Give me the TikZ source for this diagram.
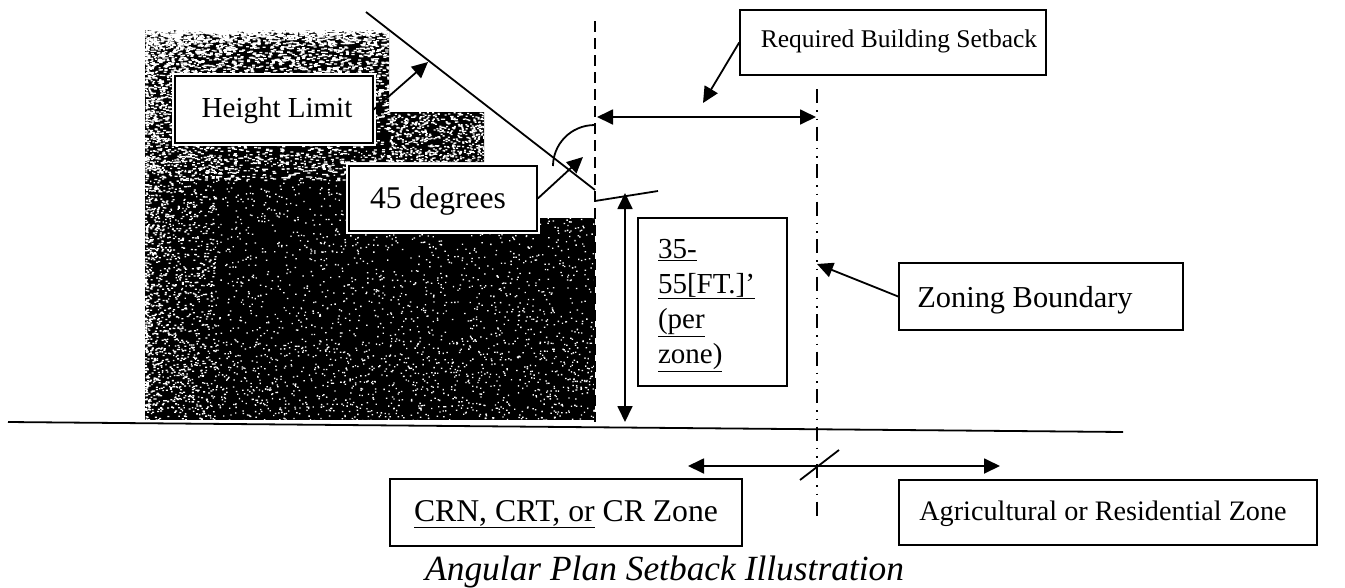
\documentclass[tikz,border=0pt]{standalone}
\usepackage{fontspec}
\setmainfont{Liberation Serif}
\usetikzlibrary{arrows.meta}
\newcommand{\fsz}[1]{\fontsize{#1}{#1}\selectfont}
\newcommand{\drop}[2]{\raisebox{-#1pt}[0pt][0pt]{#2}}
% x0 y0 w h sizeX sizeY count exponentY exponentX
\newcommand{\specks}[9]{%
  \fill[white] \foreach \i in {1,...,#7}{
    ({#1+#3*pow(rnd,#9)},{#2+#4*pow(rnd,#8)}) rectangle ++(#5,#6)};}
\tikzset{
  boxed/.style={draw=black,line width=1.6pt,fill=white,inner sep=0pt},
  halo/.style={preaction={draw=white,line width=6pt}},
  thinline/.style={black,line width=1.8pt},
  tip/.style={thinline,-{Triangle[length=16pt,width=15pt]}},
  twotip/.style={thinline,{Triangle[length=16pt,width=15pt]}-{Triangle[length=16pt,width=15pt]}},
  boundary/.style={black,line width=1.6pt,dash pattern=on 14pt off 7pt on 1.5pt off 7pt on 1.5pt off 6.5pt},
  cut/.style={black,line width=1.5pt,dash pattern=on 11pt off 6pt}
}
\begin{document}
\begin{tikzpicture}[x=1pt,y=-1pt]
\useasboundingbox (0,0) rectangle (1345,587);
\pgfmathsetseed{7}
% building
\begin{scope}
\clip (145,30) -- (389,30) -- (389,112) -- (484,112) -- (484,162) -- (350,162) -- (350,218) -- (595,218) -- (595,420) -- (145,420) -- cycle;
\fill[black] (145,30) rectangle (595,420);
\specks{145}{30}{245}{150}{3}{1.3}{3600}{2}{1}
\specks{145}{30}{70}{390}{2}{1.3}{1700}{1}{2}
\specks{389}{112}{95}{50}{2}{1.3}{600}{1}{1}
\specks{145}{150}{450}{270}{1.4}{1.3}{2500}{1}{1}
\specks{145}{340}{450}{80}{1.4}{1.3}{500}{1}{1}
\end{scope}
% lines
\coordinate (diagTop) at (366,12);
\coordinate (diagEnd) at (595,190);
\coordinate (limitTip) at (428,62);
\coordinate (cutTop) at (595,21);
\coordinate (cutEnd) at (595,422);
\coordinate (arcA) at (595,125);
\coordinate (arcB) at (553,166);
\coordinate (angleTip) at (583,157);
\coordinate (setL) at (597,117);
\coordinate (setR) at (816,117);
\coordinate (setTip) at (703,103);
\coordinate (tickA) at (595,201);
\coordinate (tickB) at (658,191);
\coordinate (heightT) at (625,193);
\coordinate (heightB) at (625,422);
\coordinate (bndTop) at (817,89);
\coordinate (bndEnd) at (817,516);
\coordinate (bndTip) at (817,264);
\coordinate (groundL) at (8,422);
\coordinate (groundR) at (1123,432);
\coordinate (zoneL) at (688,466);
\coordinate (zoneR) at (1000,466);
\coordinate (slashA) at (800,480);
\coordinate (slashB) at (839,450);
\draw[thinline] (diagTop) -- (diagEnd);
\draw[cut] (cutTop) -- (cutEnd);
\draw[thinline] (arcA) .. controls (570,125) and (553,145) .. (arcB);
\draw[twotip] (setL) -- (setR);
\draw[thinline] (tickA) -- (tickB);
\draw[twotip] (heightT) -- (heightB);
\draw[boundary] (bndTop) -- (bndEnd);
\draw[thinline] (groundL) -- (groundR);
\draw[twotip] (zoneL) -- (zoneR);
\draw[thinline] (slashA) -- (slashB);
% boxes
\node[boxed,halo,minimum width=198pt,minimum height=67pt] (hl) at (274,109.5) {\fsz{29}\hspace*{6pt}\drop{7.5}{Height Limit}};
\node[boxed,halo,minimum width=188pt,minimum height=65pt] (deg) at (443,198.5) {\fsz{31.6}\hspace*{-10pt}\drop{10}{45 degrees}};
\node[boxed,minimum width=306pt,minimum height=65pt] (req) at (893,42.5) {\fsz{25.5}\hspace*{12pt}\drop{4.5}{Required Building Setback}};
\node[boxed,minimum width=149pt,minimum height=168pt,align=left,text width=109pt] (ht) at (712.5,302) {\fontsize{29}{35}\selectfont\rule{0pt}{26pt}\underline{35-}\\\underline{55[FT.]’}\\\underline{(per}\\\underline{zone)}\par};
\node[boxed,minimum width=284pt,minimum height=67pt] (zb) at (1041,296.5) {\fsz{30.4}\hspace*{-32pt}\drop{10.5}{Zoning Boundary}};
\node[boxed,minimum width=352pt,minimum height=67pt] (crn) at (566,512.5) {\fsz{31.7}\drop{8.5}{\underline{CRN, CRT, or} CR Zone}};
\node[boxed,minimum width=418pt,minimum height=65pt] (agr) at (1108,512.5) {\fsz{28.2}\hspace*{-10pt}\drop{8}{Agricultural or Residential Zone}};
\node[anchor=base west,inner sep=0pt] (cap) at (425,580) {\fsz{35.4}\itshape Angular Plan Setback Illustration};
% connectors
\draw[tip] (hl.east) -- (limitTip);
\draw[tip] (deg.east) -- (angleTip);
\draw[tip] (req.west) -- (setTip);
\draw[tip] (zb.west) -- (bndTip);
\end{tikzpicture}
\end{document}
